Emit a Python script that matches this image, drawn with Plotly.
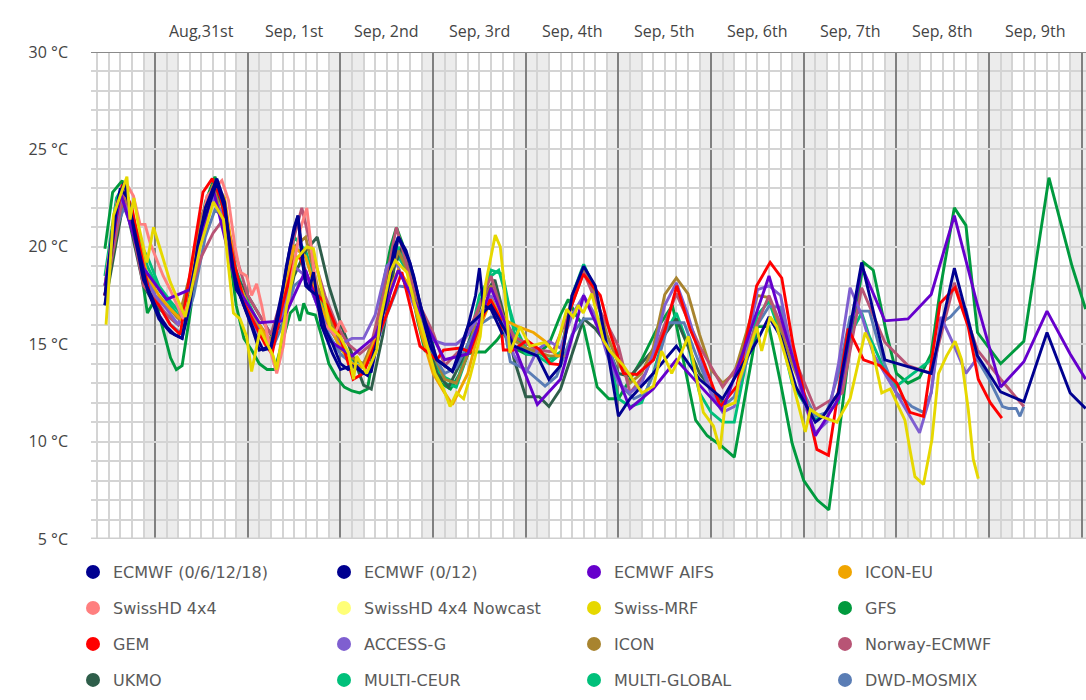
import plotly.graph_objects as go
import pandas as pd

BASE = pd.Timestamp("2025-08-31 00:00")

# ---------------- data (hours relative to Aug 31 00:00, temperatures in °C) -------------
ecmwf6_h = [-13, -11, -9, -7, -5, -3, -1, 1, 3, 5, 7, 9, 11, 13, 15, 16, 18, 20, 22, 24, 26, 28, 30, 32, 34,
            36, 37, 38, 39, 40, 42, 44, 46, 48, 50, 52, 54, 56, 58, 60, 62, 63, 65, 67, 69, 71, 73, 75, 77, 79,
            81, 83, 84, 85, 87, 90]
ecmwf6_t = [17.5, 21.0, 23.0, 22.5, 20.3, 18.3, 17.5, 16.5, 15.9, 15.5, 15.3, 17.0, 20.0, 22.0, 23.0, 23.5, 22.3,
            19.0, 17.5, 16.5, 15.5, 14.7, 14.8, 16.5, 19.0, 21.0, 21.6, 19.5, 18.0, 17.8, 17.5, 15.8, 15.0, 14.0,
            13.7, 13.9, 13.5, 13.6, 15.5, 17.8, 20.0, 20.5, 19.8, 18.5, 16.8, 15.0, 14.2, 13.9, 13.6, 14.5, 15.9,
            17.5, 18.9, 17.0, 16.8, 15.5]

ecmwf12_h = [-13, -10, -8, -5, -2, 1, 4, 6, 7, 9, 12, 16, 18, 21, 22, 25, 27, 30, 33, 35, 37, 39, 40, 41, 43,
             46, 48, 51, 55, 58, 60, 63, 66, 69, 73, 77, 81, 87, 93, 99, 102, 105, 108, 111, 114, 117, 120, 123,
             129, 135, 141, 147, 152, 156, 159, 162, 166, 171, 173, 177, 183, 189, 201, 207, 213, 219, 225, 231,
             237, 241]
ecmwf12_t = [17.0, 22.0, 23.3, 20.5, 17.8, 16.3, 15.6, 15.4, 15.3, 17.5, 21.0, 23.3, 22.0, 17.8, 17.5, 15.9,
             14.7, 14.9, 17.8, 20.0, 21.6, 18.2, 17.8, 18.7, 16.0, 14.5, 13.7, 13.9, 13.4, 15.5, 17.5, 20.5, 19.2,
             16.8, 14.2, 13.6, 15.9, 17.0, 14.9, 14.4, 13.2, 13.9, 17.5, 19.0, 18.0, 14.9, 11.3, 12.2, 13.5, 14.9,
             13.2, 12.2, 13.9, 15.2, 16.4, 15.4, 12.8, 11.0, 11.3, 12.5, 19.2, 14.2, 13.5, 18.9, 14.4, 12.55,
             12.05, 15.6, 12.5, 11.7]

aifs_h = [-13, -9, -3, 3, 9, 15, 21, 27, 33, 39, 45, 51, 57, 63, 69, 75, 81, 87, 93, 99, 105, 111, 117, 123,
          129, 135, 141, 147, 153, 159, 165, 171, 177, 183, 189, 195, 201, 207, 213, 219, 225, 231, 237, 241]
aifs_t = [18.0, 22.8, 18.9, 17.3, 17.8, 23.0, 18.0, 16.1, 16.2, 18.8, 15.2, 14.4, 15.4, 18.8, 16.5, 14.2, 14.5,
          17.9, 14.9, 11.9, 13.2, 17.5, 14.8, 11.7, 12.7, 14.2, 12.9, 11.6, 15.0, 18.5, 14.4, 10.3, 12.2, 19.0,
          16.2, 16.3, 17.55, 21.6, 17.0, 12.8, 14.1, 16.7, 14.5, 13.2]

iconeu_h = [-13, -10, -8, -5, -2, 1, 4, 7, 10, 13, 15.5, 18, 21, 24, 27, 30, 33, 36, 39, 42, 45, 48, 51, 54,
            57, 60, 63, 66, 69, 72, 75, 77, 81, 84, 87, 90, 94, 98, 101, 104, 106]
iconeu_t = [18.0, 22.0, 23.0, 21.0, 18.5, 17.5, 16.8, 16.2, 19.0, 22.0, 23.3, 22.5, 18.5, 17.0, 16.0, 15.0,
            17.5, 20.0, 19.5, 17.5, 16.0, 14.8, 14.0, 13.8, 15.25, 17.5, 18.8, 18.0, 15.5, 13.5, 12.5, 11.9,
            13.5, 15.8, 17.3, 16.3, 15.9, 15.6, 15.15, 14.4, 14.4]

swisshd_h = [-12.7, -9.9, -7.3, -5.6, -3.9, -2.6, -1.3, 0.4, 2.1, 3.9, 6.5, 7.3, 9.1, 11.7, 13.4, 15.1, 17.3,
             19, 20.7, 22, 23.7, 25, 26.3, 27.6, 28.9, 29.8, 31.5, 33.2, 35.4, 37.6, 39.3, 41, 42.7, 44, 46.5,
             48, 49.5]
swisshd_t = [18.5, 22.3, 23.2, 22.6, 21.15, 21.15, 20.2, 19.35, 18.5, 17.8, 16.6, 16.3, 17.5, 20.5, 22.6,
             22.95, 23.4, 22.4, 20.0, 18.7, 18.5, 17.5, 18.1, 17.0, 15.6, 14.7, 13.5, 14.9, 18.5, 20.9, 22.0,
             19.0, 16.4, 16.0, 15.5, 16.2, 15.6]

nowcast_h = []
nowcast_t = []

mrf_h = [-12.7, -10.8, -7.3, -6.5, -5.5, -4.3, -2.1, -0.4, 1.3, 3.9, 6.5, 7.8, 9.1, 11.7, 15.1, 17.7, 20.3, 22,
         23.7, 25, 27.2, 30.6, 31.5, 34.1, 36.7, 39.3, 41, 42.7, 45.3, 47.9, 50.1, 51.4, 52.2, 54.8, 57.4, 58.3,
         60.9, 62.2, 65.2, 66.9, 69.5, 72.5, 74.7, 76.4, 78.1, 79.9, 81.6, 84.2, 85.5, 88.1, 89.4, 90.2, 91.9,
         94.5, 97.1, 101, 103.6, 106.6, 108.3, 109.6, 110.9, 113.1, 116.1, 117.8, 121.3, 126.1, 129.1, 131.2,
         133.8, 135.5, 138.1, 142, 144.6, 146.3, 147.6, 150.2, 151.1, 155.8, 157.1, 159.3, 161, 164.5, 168.4,
         169.7, 172.3, 176.6, 180, 183.9, 185.6, 188.2, 190.4, 194.2, 195.5, 196.8, 199, 201.2, 202.9, 205,
         207.2, 208.9, 210.6, 211.9, 213.2]
mrf_t = [16.0, 21.6, 23.6, 21.4, 22.5, 21.1, 19.2, 21.0, 19.9, 18.2, 17.0, 16.4, 17.5, 20.0, 22.3, 21.4, 16.6,
         16.3, 15.4, 13.6, 15.75, 14.4, 13.7, 17.0, 19.4, 20.0, 19.9, 18.2, 15.9, 15.4, 14.55, 13.2, 14.4, 13.5,
         14.7, 16.2, 18.7, 19.3, 18.7, 17.3, 15.6, 13.5, 12.7, 11.8, 12.5, 12.2, 13.35, 15.4, 18.0, 20.6, 20.0,
         18.5, 14.55, 15.9, 14.9, 15.1, 14.55, 16.8, 16.4, 17.0, 16.6, 17.6, 15.2, 14.65, 13.9, 12.5, 12.85,
         14.65, 13.5, 14.2, 15.4, 11.5, 10.8, 9.6, 11.8, 12.0, 13.0, 15.9, 14.65, 16.4, 15.9, 13.5, 10.5, 11.65,
         11.3, 11.0, 12.2, 15.6, 14.9, 12.5, 12.7, 11.1, 9.6, 8.2, 7.8, 10.1, 13.5, 14.4, 15.15, 14.2, 11.65,
         9.1, 8.1]

gfs_h = [-13, -11, -8.5, -6, -4, -2, 0, 2, 4, 5.5, 7, 9, 11, 13, 15.5, 17, 19, 21, 23, 25, 27, 29, 31, 33, 35,
         36.5, 37.5, 38.5, 39.5, 41.5, 43, 45, 47, 49, 51, 53, 55, 57, 59, 61, 62.5, 64, 66, 68, 70, 71, 72, 74,
         76.5, 79, 81, 83, 85.5, 88.5, 90, 93, 96, 99, 102, 105, 107, 109, 111, 114.5, 117.5, 120, 123, 126,
         130, 134, 137, 140, 143, 146.5, 150, 153, 156, 159, 162, 165, 168, 171.5, 174.5, 177.5, 180, 183.5,
         186, 189.5, 192, 195, 198, 201, 203.5, 207, 210, 213, 219, 225, 231.5, 237.5, 241]
gfs_t = [19.9, 22.8, 23.4, 21.2, 19.3, 16.6, 17.3, 15.8, 14.3, 13.7, 13.9, 16.5, 19.5, 22.3, 23.6, 22.8, 20.0,
         17.0, 15.3, 14.7, 14.0, 13.7, 13.7, 15.2, 16.6, 16.9, 16.2, 17.1, 16.6, 16.5, 15.5, 14.0, 13.3, 12.8,
         12.6, 12.5, 12.7, 15.0, 18.0, 20.0, 21.0, 20.2, 18.2, 16.2, 14.6, 15.7, 14.9, 13.0, 12.7, 13.5, 14.5,
         14.6, 14.6, 15.2, 15.6, 14.8, 14.5, 14.5, 15.0, 16.5, 17.3, 16.5, 15.9, 12.8, 12.2, 12.2, 13.2, 14.2,
         15.8, 17.0, 14.0, 11.1, 10.3, 9.8, 9.2, 12.5, 15.9, 15.9, 13.0, 9.9, 8.0, 7.0, 6.5, 11.0, 15.0, 19.2,
         18.8, 15.5, 13.5, 13.0, 13.3, 14.5, 18.0, 22.0, 21.1, 15.6, 14.0, 15.15, 23.55, 19.0, 16.8]

gem_h = [-13, -10, -8.5, -6, -3, -1.3, 1, 3.9, 6.5, 9, 12.4, 14.8, 17, 20.7, 23.3, 25.9, 28.5, 30.3, 33, 36.3,
         37.6, 40.9, 44.5, 47.9, 51.3, 53.9, 57, 60.9, 63.9, 66, 68.6, 73, 74.7, 79, 81.6, 84.2, 86.8, 89.4,
         90.2, 92.8, 96.3, 99.7, 102.3, 104.9, 107.5, 110.9, 115.3, 117.8, 121.3, 124.8, 129.1, 132.1, 135.1,
         138.6, 141.2, 146.4, 150.7, 155.8, 159.3, 162.3, 165.3, 171.4, 174.4, 176.5, 179.5, 183.5, 187.8,
         192.1, 195.5, 199, 203.3, 207.2, 210.6, 213.2, 216.3, 219.3]
gem_t = [17.5, 21.5, 23.2, 22.0, 19.0, 17.5, 17.0, 16.0, 15.5, 18.5, 22.8, 23.5, 22.5, 19.0, 17.0, 16.0, 15.0,
         14.5, 17.0, 19.5, 19.4, 17.8, 17.0, 15.4, 13.2, 13.5, 15.0, 17.0, 18.7, 17.0, 14.9, 14.2, 14.7, 14.8,
         14.6, 16.1, 17.3, 16.3, 14.7, 14.7, 15.2, 14.7, 14.0, 13.95, 16.8, 18.6, 17.5, 15.6, 13.5, 13.45, 14.2,
         15.75, 18.0, 15.75, 14.55, 11.8, 12.85, 18.0, 19.2, 18.4, 14.9, 9.6, 9.3, 12.0, 15.8, 14.2, 13.9, 13.0,
         11.5, 11.3, 17.1, 17.9, 15.9, 13.2, 12.0, 11.2]

access_h = [-13, -9, -6, -3, 0, 3, 6, 9, 12, 15, 18, 21, 24, 27, 30, 33, 36, 39, 42, 45, 48, 51, 54, 57, 60, 62,
            66, 69, 72, 75, 78, 81, 84, 87, 90, 93, 96, 99, 102, 105, 108, 111, 114, 117, 120, 123, 126, 129, 132,
            135, 138, 141, 144, 147, 150, 153, 156, 159, 162, 165, 168, 171, 174, 177, 180, 183, 186, 189, 192,
            195, 198, 201, 203.5, 207, 210, 213]
access_t = [17.5, 22.5, 21.5, 18.5, 17.5, 16.8, 16.0, 17.5, 21.0, 22.5, 21.5, 18.0, 16.5, 15.5, 15.0, 16.5, 19.0,
            18.5, 17.0, 15.8, 15.0, 15.3, 15.3, 16.5, 19.0, 19.4, 17.5, 16.0, 15.2, 15.0, 15.0, 15.5, 16.5, 17.5,
            16.0, 14.4, 13.5, 14.7, 15.15, 14.8, 16.5, 17.5, 16.5, 14.5, 13.0, 12.5, 13.0, 14.5, 17.0, 18.15, 16.5,
            14.55, 12.5, 11.5, 11.8, 14.5, 17.8, 18.0, 17.5, 14.5, 12.0, 10.45, 11.0, 14.0, 17.9, 16.5, 14.5, 13.5,
            12.5, 11.5, 10.45, 12.5, 16.4, 14.9, 13.5, 14.3]

icon_h = [-13, -8, -3, 0, 3, 6, 9, 12, 15, 18, 21, 24, 27, 30, 33, 36, 39, 42, 45, 48, 51, 54, 57, 60, 63, 66,
          69, 72, 75, 78, 81, 84, 87, 90, 93, 96, 99, 102, 105, 108, 111, 114, 117, 120, 123, 126, 129, 132, 135,
          138, 141, 144, 147, 150, 153, 156, 159, 162, 165, 168]
icon_t = [17.5, 22.8, 18.5, 17.5, 17.0, 16.3, 18.5, 21.5, 23.2, 21.0, 18.5, 17.0, 16.0, 15.2, 17.0, 20.0, 20.5,
          18.0, 16.5, 15.0, 14.3, 14.0, 15.5, 18.0, 19.8, 18.5, 16.0, 14.5, 13.2, 13.0, 14.5, 17.0, 18.0, 16.5,
          15.2, 14.8, 14.6, 14.4, 14.4, 17.5, 18.8, 17.6, 15.5, 14.0, 13.0, 13.5, 14.8, 17.55, 18.4, 17.6, 15.5,
          13.7, 13.0, 13.5, 15.5, 17.5, 17.4, 15.8, 14.0, 12.5]

norway_h = [-13, -8, -3, 0, 3, 6, 9, 12, 15, 18, 21, 24, 27, 30, 33, 36, 38, 41, 44, 47, 50, 53, 56, 59, 62.5,
            66, 69, 72, 75, 79, 83, 87, 90, 93, 99, 103, 107, 111, 115, 120, 123, 127, 131, 135, 141, 147, 152,
            159, 165, 171, 178, 183, 189, 195, 201, 207, 213, 219, 225]
norway_t = [17.5, 23.0, 18.0, 17.3, 16.5, 16.0, 17.5, 19.5, 20.7, 21.5, 19.5, 17.5, 16.5, 15.5, 17.5, 20.5, 22.0,
            19.5, 17.5, 16.0, 15.0, 14.5, 15.0, 17.5, 21.0, 18.5, 16.8, 15.6, 13.9, 14.7, 16.5, 18.5, 16.5, 15.4,
            14.7, 14.6, 16.5, 18.7, 16.8, 14.9, 12.5, 13.5, 15.5, 17.6, 14.9, 12.8, 14.2, 17.5, 14.55, 11.65, 12.5,
            17.9, 15.1, 13.9, 13.5, 18.15, 14.7, 13.2, 11.8]

ukmo_h = [-13, -8, -3, 0, 3, 6, 9, 12, 15, 18, 21, 24, 27, 30, 33, 36, 39, 42, 45, 48, 51, 54, 56, 59, 62, 64,
          67, 70, 73, 76, 79, 82, 85, 88, 91, 93, 96, 99.5, 102, 105, 108, 111, 114, 117, 120, 123, 129, 135, 141,
          147]
ukmo_t = [17.0, 22.5, 18.0, 17.0, 16.5, 16.0, 18.0, 21.5, 23.2, 22.0, 18.5, 17.5, 16.5, 15.5, 16.0, 18.5, 19.8,
          20.5, 18.0, 16.1, 14.5, 12.9, 12.7, 15.5, 19.0, 20.0, 18.0, 15.5, 13.5, 12.8, 14.0, 15.5, 17.5, 18.3,
          16.0, 14.2, 12.3, 12.3, 11.8, 12.7, 14.5, 16.3, 15.8, 15.0, 13.5, 13.35, 14.7, 16.3, 13.5, 12.0]

mceur_h = [-13, -10, -8, -5, -2, 1, 4, 7, 10, 13, 15.5, 18, 21, 24, 27, 30, 33, 36, 39, 42, 45, 48, 51, 54, 57,
           60, 63, 66, 69, 72, 75, 78, 81, 84, 87, 89, 93, 96, 99, 102, 105]
mceur_t = [18.0, 22.0, 23.0, 20.5, 19.5, 18.0, 17.2, 16.5, 18.5, 21.5, 23.0, 21.8, 18.8, 17.2, 16.0, 15.0, 17.0,
           20.0, 19.5, 17.5, 16.2, 15.0, 14.2, 14.0, 15.2, 18.0, 19.5, 18.5, 16.2, 14.3, 13.3, 13.0, 14.8, 17.5,
           18.5, 18.8, 16.0, 14.8, 14.6, 14.2, 14.6]

mglob_h = [-13, -10, -8, -5, -2, 1, 4, 7, 10, 13, 15.5, 18, 21, 24, 27, 30, 33, 36, 39, 42, 45, 48, 51, 54, 57,
           60, 63, 66, 69, 72, 75, 78, 81, 84, 87, 90, 93, 96, 99, 102, 105, 108, 111, 114, 117, 120, 123, 126,
           129, 132, 135, 138, 141, 144, 147, 150, 153, 156, 159, 162, 165, 168, 171, 174, 177, 180, 183, 185,
           190, 192, 201]
mglob_t = [18.5, 22.5, 23.2, 21.0, 19.0, 17.8, 17.0, 16.2, 18.8, 22.0, 23.4, 22.0, 18.5, 17.0, 15.5, 14.8, 17.5,
           20.5, 19.8, 17.8, 16.0, 14.8, 14.0, 13.8, 15.5, 18.5, 20.0, 18.8, 16.0, 14.0, 13.0, 12.8, 14.5, 17.0,
           18.8, 18.6, 15.6, 14.5, 14.4, 14.0, 14.5, 17.5, 19.1, 17.8, 15.0, 12.2, 11.8, 12.0, 13.5, 15.5, 16.6,
           15.0, 12.5, 11.5, 11.0, 11.0, 14.0, 16.5, 17.2, 15.5, 13.0, 12.0, 11.1, 11.5, 12.0, 15.5, 16.6, 15.4,
           13.2, 12.85, 14.2]

dwd_h = [-13, -10, -8, -5, -2, 1, 4, 7, 10, 13, 15.5, 18, 21, 24, 27, 30, 33, 36, 39, 42, 45, 48, 51, 54, 57,
         60, 63, 66, 69, 72, 75, 78, 81, 84, 87, 90, 92, 96, 101, 104, 108, 111, 115, 118, 121, 124, 127, 130,
         133, 137, 140, 144, 147, 150, 153, 156, 159, 162, 165, 168, 171, 174, 177, 180, 183, 185, 188.5, 192,
         196, 199, 201, 203.5, 206, 208.5, 210, 213, 216, 219.5, 221, 223, 224, 225]
dwd_t = [17.5, 21.0, 22.0, 20.5, 18.5, 17.0, 16.0, 15.5, 17.5, 20.5, 21.9, 21.5, 18.5, 17.0, 15.8, 14.6, 16.0,
         18.0, 18.5, 17.0, 15.5, 14.5, 14.0, 13.8, 14.8, 16.5, 18.0, 17.9, 16.0, 14.5, 13.5, 13.8, 15.0, 16.0,
         16.4, 16.3, 14.1, 13.7, 12.85, 13.35, 15.5, 16.3, 16.3, 14.5, 12.8, 12.2, 12.5, 14.0, 16.1, 16.1, 14.5,
         12.5, 11.8, 12.3, 14.0, 16.0, 16.95, 16.9, 14.5, 12.5, 11.3, 11.5, 13.5, 16.4, 16.7, 16.7, 14.2, 12.5,
         11.8, 11.5, 12.5, 16.1, 16.4, 16.95, 16.8, 14.2, 13.2, 11.8, 11.7, 11.7, 11.3, 11.8]

# legend order (row by row) : name, colour, hours, temps
series = [
    ("ECMWF (0/6/12/18)", "#000090", ecmwf6_h, ecmwf6_t),
    ("ECMWF (0/12)", "#000090", ecmwf12_h, ecmwf12_t),
    ("ECMWF AIFS", "#6600cc", aifs_h, aifs_t),
    ("ICON-EU", "#f0a500", iconeu_h, iconeu_t),
    ("SwissHD 4x4", "#ff7f7f", swisshd_h, swisshd_t),
    ("SwissHD 4x4 Nowcast", "#ffff77", nowcast_h, nowcast_t),
    ("Swiss-MRF", "#e6d800", mrf_h, mrf_t),
    ("GFS", "#009a3e", gfs_h, gfs_t),
    ("GEM", "#ff0000", gem_h, gem_t),
    ("ACCESS-G", "#7f5fd0", access_h, access_t),
    ("ICON", "#a8842f", icon_h, icon_t),
    ("Norway-ECMWF", "#b85475", norway_h, norway_t),
    ("UKMO", "#2e5e4a", ukmo_h, ukmo_t),
    ("MULTI-CEUR", "#00c07a", mceur_h, mceur_t),
    ("MULTI-GLOBAL", "#00c07a", mglob_h, mglob_t),
    ("DWD-MOSMIX", "#5a7db5", dwd_h, dwd_t),
]

draw_order = ["GFS", "MULTI-GLOBAL", "MULTI-CEUR", "UKMO", "ICON", "DWD-MOSMIX", "Norway-ECMWF", "ACCESS-G",
              "ICON-EU", "GEM", "SwissHD 4x4", "SwissHD 4x4 Nowcast", "ECMWF AIFS", "ECMWF (0/12)",
              "ECMWF (0/6/12/18)", "Swiss-MRF"]

day_labels = ["Aug,31st", "Sep, 1st", "Sep, 2nd", "Sep, 3rd", "Sep, 4th", "Sep, 5th", "Sep, 6th",
              "Sep, 7th", "Sep, 8th", "Sep, 9th"]
y_ticks = [5, 10, 15, 20, 25, 30]
y_labels = ["5 °C", "10 °C", "15 °C", "20 °C", "25 °C", "30 °C"]

# legend grid (pixel centres of the legend dots)
legend_cols = [93, 344, 594, 845]
legend_rows = [572, 608, 644, 680]


def to_time(hours):
    return [BASE + pd.Timedelta(hours=h) for h in hours]


fig = go.Figure()
lookup = {s[0]: s for s in series}
for nm in draw_order:
    name, col, hh, tt = lookup[nm]
    if not hh:
        continue
    fig.add_trace(go.Scatter(x=to_time(hh), y=tt, mode="lines", name=name, showlegend=False,
                             line=dict(color=col, width=2.9), hoverinfo="skip"))

legend_ids = ["legend"] + ["legend%d" % k for k in range(2, 17)]
for i, (name, col, hh, tt) in enumerate(series):
    fig.add_trace(go.Scatter(x=[None], y=[None], mode="markers", name=name, showlegend=True,
                             legend=legend_ids[i], marker=dict(color=col, size=14)))

# night shading 21:00 - 06:00
shapes = []
for d in range(-1, 10):
    day = BASE + pd.Timedelta(days=d)
    shapes.append(dict(type="rect", xref="x", yref="paper", x0=day + pd.Timedelta(hours=21),
                       x1=day + pd.Timedelta(hours=30), y0=0, y1=1, fillcolor="#ececec",
                       line=dict(width=0), layer="below"))
shapes.append(dict(type="line", xref="paper", yref="y", x0=0, x1=1, y0=30, y1=30,
                   line=dict(color="#8a8a8a", width=2), layer="above"))
shapes.append(dict(type="line", xref="paper", yref="y", x0=0, x1=1, y0=5, y1=5,
                   line=dict(color="#cfcfcf", width=3), layer="above"))

annotations = []
for i, lab in enumerate(day_labels):
    annotations.append(dict(x=BASE + pd.Timedelta(days=i, hours=12), y=1, xref="x", yref="paper",
                            text=lab, showarrow=False, yanchor="middle", yshift=21,
                            font=dict(family="Open Sans", size=16, color="#444444")))

fig.update_layout(
    width=1086, height=700,
    margin=dict(l=91, r=0, t=52, b=161, autoexpand=False),
    paper_bgcolor="white", plot_bgcolor="white",
    showlegend=True,
    shapes=shapes,
    annotations=annotations,
    xaxis=dict(type="date",
               range=[BASE - pd.Timedelta(hours=16.6), BASE + pd.Timedelta(hours=241.1)],
               showticklabels=False, ticks="", zeroline=False, showline=False,
               showgrid=True, tick0=BASE, dtick=86400000, gridcolor="#808080", gridwidth=2,
               minor=dict(showgrid=True, tick0=BASE, dtick=10800000, gridcolor="#d4d4d4", gridwidth=2)),
    yaxis=dict(range=[5, 30], tickvals=y_ticks, ticktext=y_labels, ticks="", zeroline=False,
               showline=False, showgrid=True, gridcolor="#d4d4d4", gridwidth=2,
               minor=dict(showgrid=True, dtick=1, gridcolor="#d4d4d4", gridwidth=2),
               tickfont=dict(family="Open Sans", size=16, color="#444444"),
               ticklabelstandoff=22),
)
for i, lid in enumerate(legend_ids):
    cx = legend_cols[i % 4]
    cy = legend_rows[i // 4]
    fig.update_layout({lid: dict(orientation="h", xref="container", yref="container",
                                 x=(cx - 20) / 1086, xanchor="left", y=1 - cy / 700, yanchor="middle",
                                 font=dict(family="DejaVu Sans", size=16, color="#5a5a5a"),
                                 bgcolor="rgba(0,0,0,0)", itemclick=False, itemdoubleclick=False)})

fig.write_html("out.html", include_plotlyjs=True, config={"displayModeBar": False},
               post_script="document.body.style.margin='0';")
